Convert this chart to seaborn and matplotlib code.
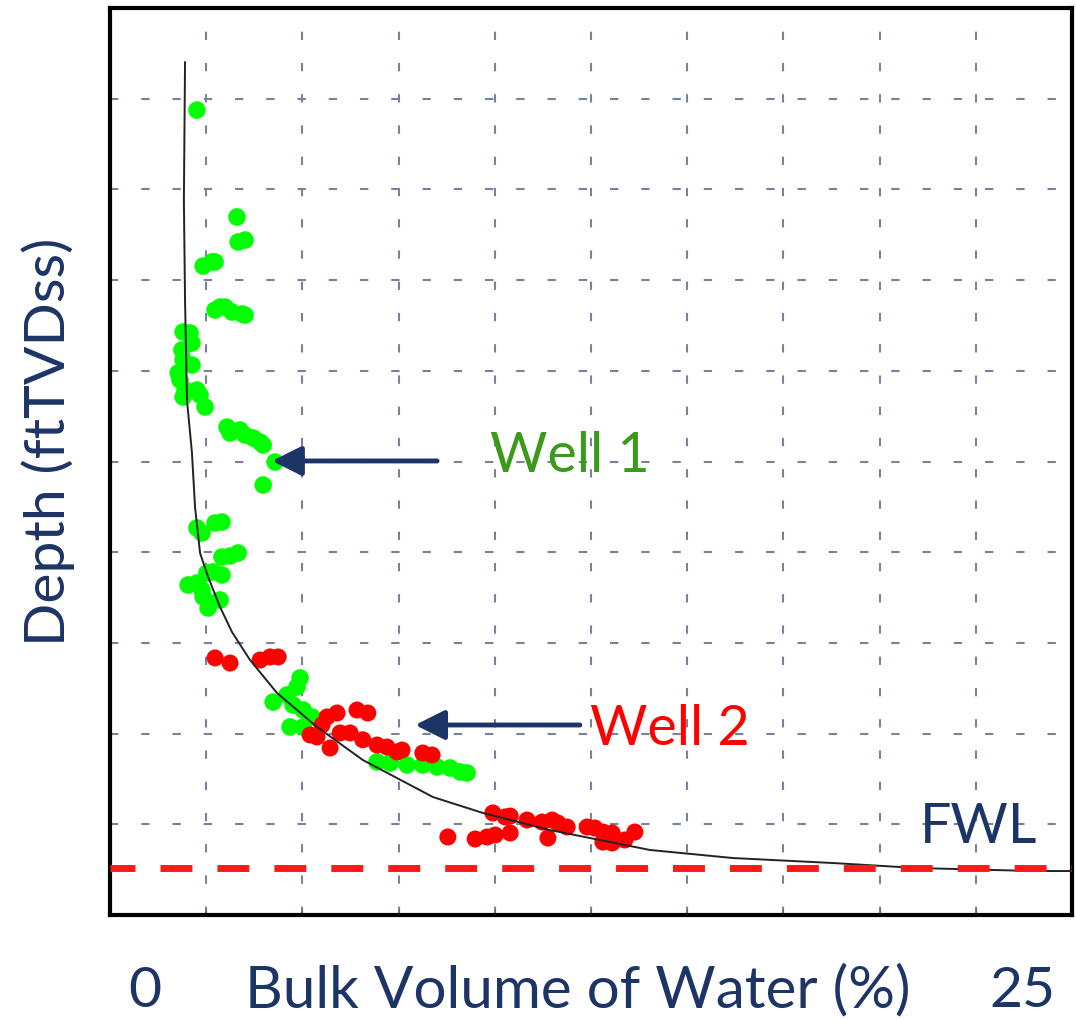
import numpy as np
import pandas as pd
import seaborn as sns
import matplotlib.pyplot as plt
from matplotlib.ticker import MultipleLocator

# ---------------- data (BVW %, depth in arbitrary ft units, depth increases downward) ----------------
curve_bvw = [1.95, 1.92, 1.95, 2.00, 2.13, 2.21, 2.34, 2.55, 2.86, 3.17, 3.64, 4.34, 5.38,
             6.57, 8.39, 9.69, 11.43, 14.03, 16.19, 18.79, 20.97, 23.99, 25.0]
curve_depth = [59.5, 211.7, 321.9, 432.2, 490.6, 550.2, 600.9, 627.3, 660.4, 688.0, 718.9, 755.2, 792.7,
               829.1, 869.9, 887.5, 906.3, 928.3, 937.2, 942.7, 948.2, 951.5, 951.5]

well1_bvw = [2.26, 3.30, 3.33, 3.51, 2.42, 2.65, 2.73,
             2.73, 2.99, 3.17, 3.43, 3.51, 2.86,
             1.90, 2.08, 2.13, 1.87, 1.90, 2.13, 1.77, 1.82, 1.95, 2.26, 1.90, 2.34, 2.47,
             3.04, 3.12, 3.38, 3.51, 3.72, 3.90, 3.98, 4.29, 3.98,
             2.26, 2.39, 2.73, 2.91, 2.91, 3.33, 3.12,
             2.68, 2.91, 2.52, 2.03, 2.26, 2.39, 2.42, 2.60, 2.86, 2.55,
             4.94, 4.86, 4.60, 4.24, 4.76, 5.02, 5.25, 4.68, 5.02,
             6.94, 7.28, 7.72, 8.13, 8.50, 8.84, 9.10, 9.28]
well1_depth = [112.5, 230.4, 258.0, 255.8, 284.5, 280.0, 280.0,
               333.0, 329.7, 335.2, 337.4, 338.5, 329.7,
               357.2, 358.3, 369.3, 377.1, 388.1, 393.6, 402.4, 410.1, 421.2, 421.2, 428.9, 426.7, 439.9,
               462.0, 468.6, 465.3, 470.8, 474.1, 478.5, 481.8, 500.6, 525.9,
               573.3, 578.8, 567.8, 566.7, 605.3, 600.9, 604.2,
               621.8, 625.1, 622.9, 636.2, 634.0, 641.7, 649.4, 656.0, 652.7, 661.5,
               738.7, 748.6, 757.4, 765.2, 768.5, 774.0, 781.7, 792.7, 792.7,
               831.3, 832.4, 834.6, 834.6, 836.8, 837.9, 842.3, 843.4]

well2_bvw = [2.73, 3.12, 3.90, 4.16, 4.37,
             5.64, 5.90, 6.42, 6.70, 5.20, 5.38, 5.51, 5.72, 5.98, 6.24, 6.57, 6.94, 7.20, 7.46, 7.59,
             8.13, 8.37,
             8.78, 9.49, 9.80, 10.01, 10.40, 9.95, 10.27, 10.40, 10.84, 11.23, 11.49, 11.64, 11.88,
             11.38, 12.40, 12.60, 12.81, 13.05, 12.81, 13.05, 13.38, 13.64]
well2_depth = [716.6, 722.2, 718.9, 715.5, 715.5,
               781.7, 777.3, 774.0, 777.3, 801.5, 803.7, 790.5, 815.9, 799.3, 799.3, 806.8, 812.6, 814.8, 820.3, 818.1,
               821.4, 823.6,
               914.0, 916.2, 914.0, 911.8, 909.6, 887.5, 891.9, 890.9, 895.3, 897.5, 895.3, 898.6, 903.0,
               915.1, 903.0, 904.1, 908.5, 909.6, 919.6, 920.6, 917.3, 908.5]

fwl_depth = 948.0

# ---------------- styling ----------------
sns.set_style("white")
plt.rcParams['font.family'] = ['Lato', 'DejaVu Sans']
navy = '#1c3466'

W, H = 1076, 1019
fig = plt.figure(figsize=(W / 100, H / 100), dpi=100)
ax = fig.add_axes([110 / W, 1 - 915 / H, 962 / W, 907 / H])

df1 = pd.DataFrame({'bvw': well1_bvw, 'depth': well1_depth})
df2 = pd.DataFrame({'bvw': well2_bvw, 'depth': well2_depth})
dfc = pd.DataFrame({'bvw': curve_bvw, 'depth': curve_depth})

ax.grid(True, color='#76839a', lw=1.5, ls=(0, (4, 11)))
ax.set_axisbelow(True)

sns.scatterplot(data=df1, x='bvw', y='depth', color='#00ff00', s=160, edgecolor='none',
                legend=False, ax=ax, zorder=3)
sns.scatterplot(data=df2, x='bvw', y='depth', color='#ff0000', s=150, edgecolor='none',
                legend=False, ax=ax, zorder=3)
sns.lineplot(data=dfc, x='bvw', y='depth', estimator=None, sort=False, color='#222222',
             lw=1.4, ax=ax, zorder=4)

ax.axhline(fwl_depth, color='#ff1a1a', lw=5, ls=(1, (4.6, 3.6)), zorder=5)

ax.set_xlim(0, 25)
ax.set_ylim(1000, 0)
ax.xaxis.set_major_locator(MultipleLocator(2.5))
ax.yaxis.set_major_locator(MultipleLocator(100))
ax.tick_params(axis='x', direction='in', length=4, color='#666666', labelbottom=False, bottom=True)
ax.tick_params(axis='y', length=0, labelleft=False)
ax.set_xlabel('')
ax.set_ylabel('')
for sp in ax.spines.values():
    sp.set_visible(True)
    sp.set_color('black')
    sp.set_linewidth(3)

# annotations
arrow = dict(arrowstyle='-|>,head_length=0.9,head_width=0.45', color=navy, lw=3.5,
             mutation_scale=20, shrinkA=0, shrinkB=0)
ax.annotate('', xy=(4.21, 499.4), xytext=(8.50, 499.4), arrowprops=arrow, zorder=6)
ax.annotate('', xy=(7.93, 790.5), xytext=(12.21, 790.5), arrowprops=arrow, zorder=6)
ax.text(9.88, 511.6, 'Well 1', color='#3a9a1a', fontsize=40, ha='left', va='baseline', zorder=6)
ax.text(12.47, 812.6, 'Well 2', color='#ff0000', fontsize=40, ha='left', va='baseline', zorder=6)
ax.text(21.05, 920.6, 'FWL', color=navy, fontsize=40, ha='left', va='baseline', zorder=6)

# axis labels as figure text
fig.text(145 / W, 1 - 1007 / H, '0', color=navy, fontsize=41, ha='center', va='baseline')
fig.text(245 / W, 1 - 1007 / H, 'Bulk Volume of Water (%)', color=navy, fontsize=42,
         ha='left', va='baseline')
fig.text(1055 / W, 1 - 1007 / H, '25', color=navy, fontsize=41, ha='right', va='baseline')
fig.text(48 / W, 1 - 442 / H, 'Depth (ftTVDss)', color=navy, fontsize=41, rotation=90,
         ha='center', va='center')

fig.savefig('out.png', dpi=100)
